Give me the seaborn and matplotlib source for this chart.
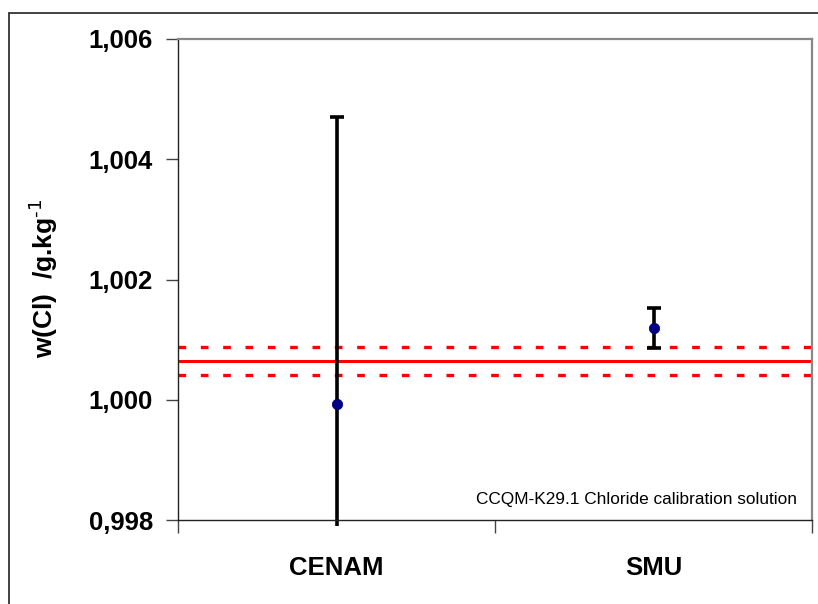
import matplotlib
matplotlib.use("Agg")
import matplotlib.pyplot as plt
import seaborn as sns
import pandas as pd
from matplotlib.patches import Rectangle

labs = ["CENAM", "SMU"]
values = [0.99993, 1.00119]
uncert = [0.00477, 0.00033]
ref_value = 1.000648
ref_u = 0.000236
y_ticks = [0.998, 1.000, 1.002, 1.004, 1.006]
y_tick_labels = ["0,998", "1,000", "1,002", "1,004", "1,006"]
note = "CCQM-K29.1 Chloride calibration solution"

sns.set_theme(style="white")
plt.rcParams['font.family'] = ['Liberation Sans', 'DejaVu Sans']
plt.rcParams['text.color'] = 'black'
plt.rcParams['axes.labelcolor'] = 'black'
plt.rcParams['xtick.color'] = 'black'
plt.rcParams['ytick.color'] = 'black'
plt.rcParams['mathtext.default'] = 'bf'

df = pd.DataFrame({"lab": labs, "pos": range(len(labs)), "w": values, "u": uncert})

fig = plt.figure(figsize=(8.18, 6.04), dpi=100)
ax = fig.add_axes([178 / 818, 1 - 520 / 604, (812 - 178) / 818, (520 - 39) / 604])

# outer chart frame (cut off at right and bottom)
fig.patches.append(Rectangle((9 / 818, -0.1), 1.2, 1 - 13 / 604 + 0.1,
                             transform=fig.transFigure, fill=False,
                             edgecolor="#333333", linewidth=1.3))

# reference value and its uncertainty
ax.axhline(ref_value, color="red", lw=2.2, zorder=1)
ax.axhline(ref_value + ref_u, color="red", lw=2.4, ls=(0, (2.3, 4.4)), zorder=1)
ax.axhline(ref_value - ref_u, color="red", lw=2.4, ls=(0, (2.3, 4.4)), zorder=1)

eb = ax.errorbar(df["pos"], df["w"], yerr=df["u"], fmt="none", ecolor="black",
                 elinewidth=2.6, capsize=5, capthick=2.6, zorder=2)
# let the bars run a few pixels past the bottom axis like the original
clip = Rectangle((0, -0.012), 1, 1.1, transform=ax.transAxes, visible=False)
ax.add_patch(clip)
for art in list(eb.lines[1]) + list(eb.lines[2]):
    art.set_clip_path(clip)

sns.scatterplot(data=df, x="pos", y="w", color="#000080", s=55,
                edgecolor="#000080", zorder=3, ax=ax, legend=False)

ax.set_xlim(-0.5, 1.5)
ax.set_ylim(0.998, 1.006)
ax.set_xticks([-0.5, 0.5, 1.5])
ax.set_xticklabels([])
ax.set_xticks(df["pos"], minor=True)
ax.set_xticklabels(labs, minor=True, fontsize=18.5, fontweight="bold")
ax.tick_params(axis="x", which="major", direction="out", length=9, width=1, color="#444444", bottom=True)
ax.tick_params(axis="x", which="minor", length=0, pad=26, bottom=True)
ax.set_yticks(y_ticks)
ax.set_yticklabels(y_tick_labels, fontsize=18.5, fontweight="bold")
ax.tick_params(axis="y", direction="out", length=9, width=1, color="#444444", left=True, pad=9)
ax.set_xlabel("")
ax.set_ylabel("")
fig.text(43 / 818, 1 - 278 / 604, "w(Cl)  /g.kg$^{\\text{-1}}$", rotation=90, ha="center", va="center",
         fontsize=19, fontweight="bold")

for side in ["left", "bottom"]:
    ax.spines[side].set_color("#222222")
    ax.spines[side].set_linewidth(1.0)
for side in ["top", "right"]:
    ax.spines[side].set_color("#888888")
    ax.spines[side].set_linewidth(1.6)

ax.text(0.977, 0.027, note, transform=ax.transAxes, ha="right", va="bottom", fontsize=12.4)

fig.savefig("out.png", dpi=100)
